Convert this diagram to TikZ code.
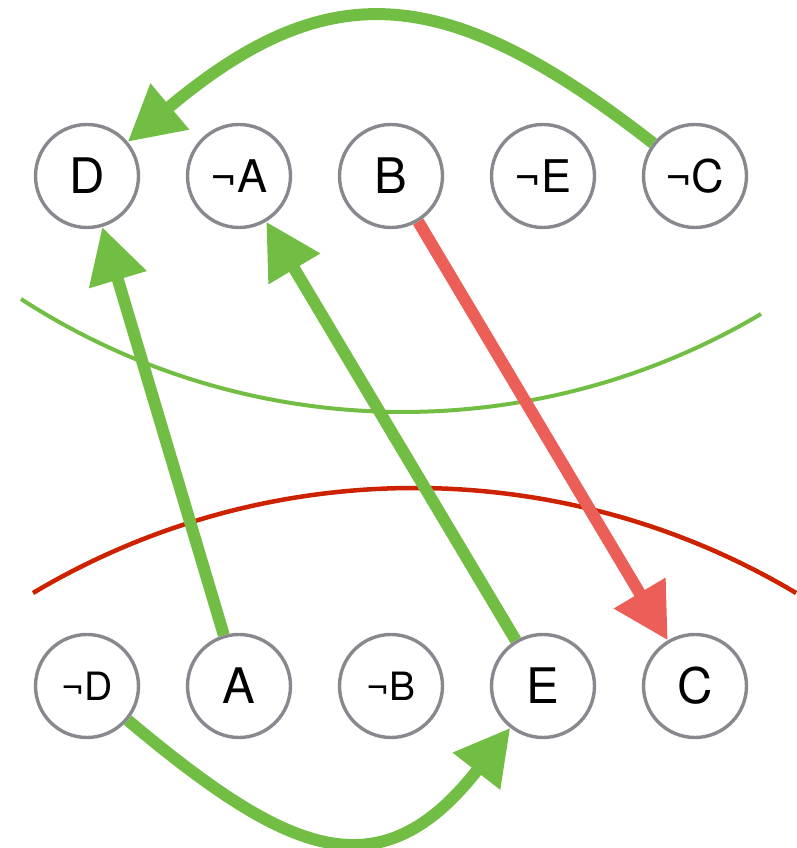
\documentclass[tikz,border=0pt]{standalone}
\usepackage{fontspec}
\setmainfont{TeX Gyre Heros}
\usetikzlibrary{arrows.meta}
\definecolor{lgreen}{RGB}{114,190,68}
\definecolor{lred}{RGB}{236,94,88}
\definecolor{dred}{RGB}{204,34,0}
\definecolor{cgray}{RGB}{136,137,142}
\tikzset{
  lit/.style={circle, draw=cgray, line width=3.4pt, fill=white, minimum size=103pt, inner sep=0pt, font=\fontsize{49}{49}\selectfont},
  neglit/.style={lit, font=\fontsize{45}{45}\selectfont},
  smallneg/.style={lit, font=\fontsize{39}{39}\selectfont},
  garrow/.style={draw=lgreen, line width=12pt, -{Triangle[length=55pt,width=57pt]}},
  rarrow/.style={draw=lred, line width=12pt, -{Triangle[length=55pt,width=57pt]}},
  gcut/.style={draw=lgreen, line width=4pt},
  rcut/.style={draw=dred, line width=4.5pt}
}
\begin{document}
\begin{tikzpicture}[x=1pt,y=1pt]
\useasboundingbox (0,0) rectangle (796,848);
% cuts
\draw[gcut] (21,549) arc[start angle=237.05, end angle=300.63, radius=702.5];
\draw[rcut] (33,255) arc[start angle=120.78, end angle=59.22, radius=745.6];
% nodes top
\node[lit]    (D)  at (87,672)  {D};
\node[neglit] (nA) at (239,672) {¬A};
\node[lit]    (B)  at (391,672) {B};
\node[neglit] (nE) at (543,672) {¬E};
\node[neglit] (nC) at (695,672) {¬C};
% nodes bottom
\node[smallneg] (nD) at (87,162)  {¬D};
\node[lit]      (A)  at (239,162) {A};
\node[smallneg] (nB) at (391,162) {¬B};
\node[lit]      (E)  at (543,162) {E};
\node[lit]      (C)  at (695,162) {C};
% connectors
\draw[garrow] (nC) to[out=142, in=40, distance=262pt] (D);
\draw[garrow] (A) -- (D);
\draw[garrow] (E) -- (nA);
\draw[rarrow] (B) -- (C);
\draw[garrow] (nD) to[out=-40, in=232, distance=211pt] (E);
\end{tikzpicture}
\end{document}
